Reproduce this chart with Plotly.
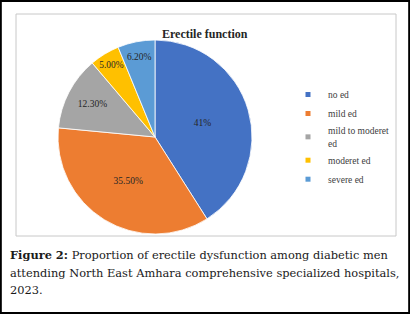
import plotly.graph_objects as go

categories = ["no ed", "mild ed", "mild to moderet<br>ed", "moderet ed", "severe ed"]
values = [41.0, 35.5, 12.3, 5.0, 6.2]
value_labels = ["41%", "35.50%", "12.30%", "5.00%", "6.20%"]
colors = ["#4472C4", "#ED7D31", "#A5A5A5", "#FFC000", "#5B9BD5"]
caption_lines = [
    "<b>Figure 2:</b> Proportion of erectile dysfunction among diabetic men",
    "attending North East Amhara comprehensive specialized hospitals,",
    "2023.",
]

W, H = 410, 314
cx, cy, r = 155, 137, 97

fig = go.Figure()
fig.add_trace(go.Pie(
    labels=categories,
    values=values,
    text=value_labels,
    textinfo="text",
    textposition="inside",
    insidetextorientation="horizontal",
    sort=False,
    direction="clockwise",
    rotation=0,
    showlegend=False,
    marker=dict(colors=colors, line=dict(color="white", width=0.8)),
    textfont=dict(family="Liberation Serif", size=9.5, color="#262626"),
    domain=dict(x=[(cx - r) / W, (cx + r) / W], y=[(H - cy - r) / H, (H - cy + r) / H]),
    hoverinfo="label+percent",
))

# legend entries (small square swatches like the original)
for name, col in zip(categories, colors):
    fig.add_trace(go.Scatter(
        x=[None], y=[None], mode="markers", name=name,
        marker=dict(symbol="square", size=5, color=col),
        showlegend=True, hoverinfo="skip",
    ))

annotations = [
    dict(text="<b>Erectile function</b>", x=205 / W, y=1 - 25 / H, xref="paper", yref="paper",
         showarrow=False, font=dict(family="Liberation Serif", size=12, color="#262626")),
]
for i, line in enumerate(caption_lines):
    annotations.append(dict(
        text=line, x=8 / W, y=1 - (255 + 17.5 * i) / H, xref="paper", yref="paper",
        xanchor="left", yanchor="middle", align="left", showarrow=False,
        font=dict(family="DejaVu Serif", size=11.4, color="#1a1a1a"),
    ))

fig.update_layout(
    width=W, height=H,
    margin=dict(l=0, r=0, t=0, b=0),
    paper_bgcolor="white",
    plot_bgcolor="white",
    showlegend=True,
    xaxis=dict(visible=False, domain=[0.99, 1.0]),
    yaxis=dict(visible=False, domain=[0.99, 1.0]),
    legend=dict(
        x=288 / W, y=1 - 80 / H, xanchor="left", yanchor="top",
        font=dict(family="Liberation Serif", size=9.5, color="#404040"),
        itemwidth=30, tracegroupgap=0, itemsizing="trace",
        bgcolor="rgba(0,0,0,0)",
    ),
    shapes=[
        dict(type="rect", xref="paper", yref="paper", x0=0.002, y0=0.003, x1=0.998, y1=0.997,
             line=dict(color="black", width=2)),
        dict(type="rect", xref="paper", yref="paper", x0=16 / W, y0=1 - 236 / H, x1=396 / W, y1=1 - 14 / H,
             line=dict(color="#C8C8C8", width=1)),
    ],
    annotations=annotations,
)

fig.write_html("out.html", config={"displayModeBar": False},
               post_script="document.body.style.margin='0px';")
